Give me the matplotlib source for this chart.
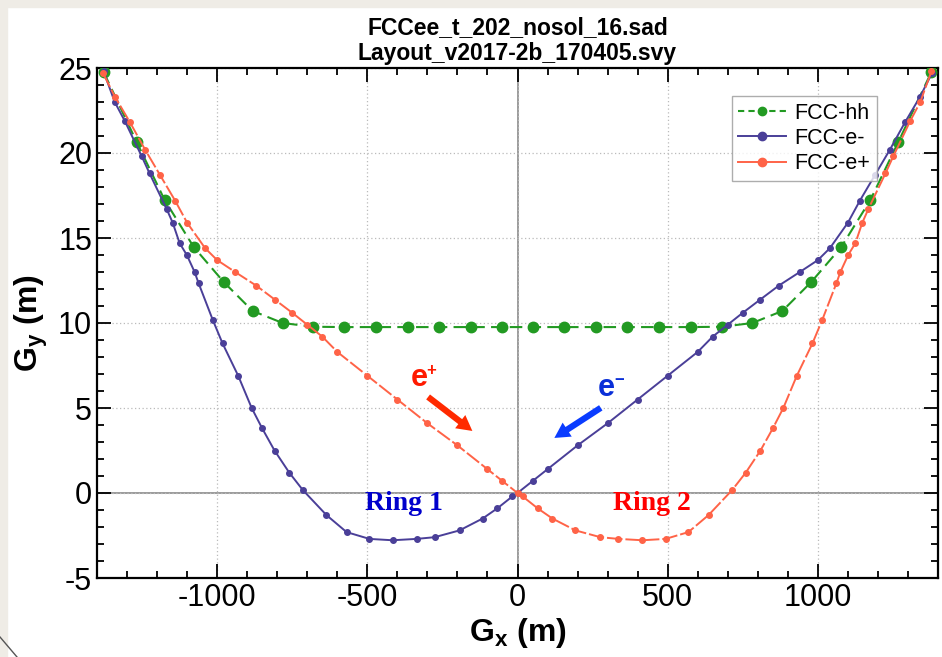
import matplotlib
matplotlib.use("Agg")
import matplotlib.pyplot as plt
from matplotlib.ticker import MultipleLocator
from matplotlib.patches import Rectangle
from matplotlib.lines import Line2D

plt.rcParams['font.family'] = ['Liberation Sans', 'DejaVu Sans']
plt.rcParams['axes.unicode_minus'] = False
plt.rcParams['mathtext.fontset'] = 'custom'
plt.rcParams['mathtext.rm'] = 'Liberation Sans'
plt.rcParams['mathtext.bf'] = 'Liberation Sans:bold'

# ---------------- data ----------------
title_lines = ["FCCee_t_202_nosol_16.sad", "Layout_v2017-2b_170405.svy"]

hh_x = [-1378, -1268, -1175, -1078, -978, -882, -782, -682, -577, -471, -366, -261, -156, -52,
        52, 156, 261, 366, 471, 577, 682, 782, 882, 978, 1078, 1175, 1268, 1378]
hh_y = [24.76, 20.65, 17.24, 14.47, 12.41, 10.71, 10.0, 9.78, 9.76, 9.76, 9.76, 9.76, 9.76, 9.76,
        9.76, 9.76, 9.76, 9.76, 9.76, 9.76, 9.78, 10.0, 10.71, 12.41, 14.47, 17.24, 20.65, 24.76]

em_x = [-1378, -1341, -1308, -1251, -1225, -1168, -1148, -1125, -1101, -1075, -1062, -1015, -982,
        -930, -885, -850, -809, -760, -715, -636, -569, -493, -416, -336, -276, -193, -116, -67, -17, 0,
        50, 100, 200, 300, 400, 500, 600, 650, 700, 750, 806, 870, 940, 1000, 1040, 1100, 1140,
        1190, 1240, 1290, 1340, 1380]
em_y = [24.8, 23.0, 21.9, 19.8, 18.8, 16.7, 15.9, 14.7, 14.0, 13.0, 12.35, 10.2, 8.8,
        6.9, 5.0, 3.8, 2.5, 1.2, 0.18, -1.3, -2.3, -2.7, -2.78, -2.7, -2.6, -2.2, -1.5, -0.9, -0.2, 0.0,
        0.7, 1.4, 2.8, 4.1, 5.5, 6.9, 8.3, 9.2, 9.9, 10.6, 11.35, 12.2, 13.0, 13.7, 14.4, 15.9, 17.2,
        18.7, 20.2, 21.8, 23.3, 24.7]

ep_x = [-1380, -1340, -1290, -1240, -1190, -1140, -1100, -1040, -1000, -940, -870, -806, -750, -700,
        -650, -600, -500, -400, -300, -200, -100, -50, 0, 17, 67, 116, 193, 276, 336, 416, 493, 569,
        636, 715, 760, 809, 850, 885, 930, 982, 1015, 1062, 1075, 1101, 1125, 1148, 1168, 1225, 1251,
        1308, 1341, 1378]
ep_y = [24.7, 23.3, 21.8, 20.2, 18.7, 17.2, 15.9, 14.4, 13.7, 13.0, 12.2, 11.35, 10.6, 9.9,
        9.2, 8.3, 6.9, 5.5, 4.1, 2.8, 1.4, 0.7, 0.0, -0.2, -0.9, -1.5, -2.2, -2.6, -2.7, -2.78, -2.7, -2.3,
        -1.3, 0.18, 1.2, 2.5, 3.8, 5.0, 6.9, 8.8, 10.2, 12.35, 13.0, 14.0, 14.7, 15.9, 16.7, 18.8, 19.8,
        21.9, 23.0, 24.8]

series_labels = ["FCC-hh", "FCC-e-", "FCC-e+"]
c_hh, c_em, c_ep = "#229a22", "#4a3f98", "#ff6347"

# ---------------- figure ----------------
W, H = 942, 657
fig = plt.figure(figsize=(W / 100, H / 100), dpi=100)
fig.patch.set_facecolor("white")
# slide background strips
fig.patches.append(Rectangle((0, 0), 7 / W, 1, transform=fig.transFigure, color="#efece6", zorder=0))
fig.patches.append(Rectangle((0, 1 - 7 / H), 1, 7 / H, transform=fig.transFigure, color="#efece6", zorder=0))
fig.lines.append(Line2D([0, 17 / W], [1 - 637 / H, 0], transform=fig.transFigure, color="#555555", lw=1))

ax = fig.add_axes([97 / W, 1 - 578 / H, (938 - 97) / W, (578 - 68) / H])
ax.set_xlim(-1400, 1400)
ax.set_ylim(-5, 25)

ax.grid(True, which="major", color="#bbbbbb", linestyle=(0, (1, 2)), linewidth=0.9)
ax.axhline(0, color="#8a8a8a", lw=1.2, zorder=1)
ax.axvline(0, color="#8a8a8a", lw=1.2, zorder=1)

ax.plot(hh_x, hh_y, color=c_hh, ls=(0, (6, 3)), lw=1.5, marker="o", ms=7.5, label=series_labels[0], zorder=3)
ax.plot(em_x, em_y, color=c_em, ls="-", lw=1.4, marker="o", ms=4, label=series_labels[1], zorder=4)
ax.plot(ep_x, ep_y, color=c_ep, ls=(0, (8, 1.5)), lw=1.4, marker="o", ms=4, label=series_labels[2], zorder=5)

ax.xaxis.set_major_locator(MultipleLocator(500))
ax.xaxis.set_minor_locator(MultipleLocator(100))
ax.yaxis.set_major_locator(MultipleLocator(5))
ax.yaxis.set_minor_locator(MultipleLocator(1))
ax.tick_params(which="both", direction="in", top=True, right=True, width=1.3, labelsize=22)
ax.tick_params(which="major", length=10)
ax.tick_params(which="minor", length=5)
for s in ax.spines.values():
    s.set_linewidth(1.6)

ax.set_xlabel(r"$\mathbf{G_x}$ (m)", fontsize=23, fontweight="bold", labelpad=2)
ax.set_ylabel(r"$\mathbf{G_y}$ (m)", fontsize=23, fontweight="bold", labelpad=6)
ax.set_title("\n".join(title_lines), fontsize=16.5, fontweight="bold", pad=6, linespacing=1.15)

leg = ax.legend(loc="upper right", bbox_to_anchor=(0.927, 0.945), fontsize=15.5, frameon=True,
                fancybox=False, edgecolor="#999999", handlelength=2.2, borderpad=0.3,
                labelspacing=0.2, handletextpad=0.4, borderaxespad=0.0, markerscale=1.0)
leg.get_frame().set_linewidth(1.0)
for h in leg.legend_handles:
    h.set_markersize(6)
leg.legend_handles[0].set_linestyle((0, (3, 2)))
leg.legend_handles[1].set_linestyle("-")
leg.legend_handles[2].set_linestyle("-")

# annotations
ax.text(-327, 6.76, "e", color="#ff1a00", fontsize=22, fontweight="bold", ha="center", va="center")
ax.text(-287, 7.2, "+", color="#ff1a00", fontsize=12, fontweight="bold", ha="center", va="center")
ax.text(297, 6.2, "e", color="#0a2fd8", fontsize=22, fontweight="bold", ha="center", va="center")
ax.text(340, 6.6, "\u2212", color="#0a2fd8", fontsize=12, fontweight="bold", ha="center", va="center")
ax.annotate("", xy=(-143, 3.55), xytext=(-305, 5.75),
            arrowprops=dict(arrowstyle="simple,head_length=1.1,head_width=1.2,tail_width=0.45",
                            color="#ff2a00", lw=0))
ax.annotate("", xy=(115, 3.15), xytext=(285, 5.1),
            arrowprops=dict(arrowstyle="simple,head_length=1.1,head_width=1.2,tail_width=0.45",
                            color="#0a3cff", lw=0))
ax.text(-377, -0.6, "Ring 1", color="#0000cc", fontsize=20, fontweight="bold",
        family=["Liberation Serif", "DejaVu Serif"], ha="center", va="center")
ax.text(447, -0.6, "Ring 2", color="#ff0000", fontsize=20, fontweight="bold",
        family=["Liberation Serif", "DejaVu Serif"], ha="center", va="center")

fig.savefig("out.png", dpi=100, facecolor=fig.get_facecolor())
